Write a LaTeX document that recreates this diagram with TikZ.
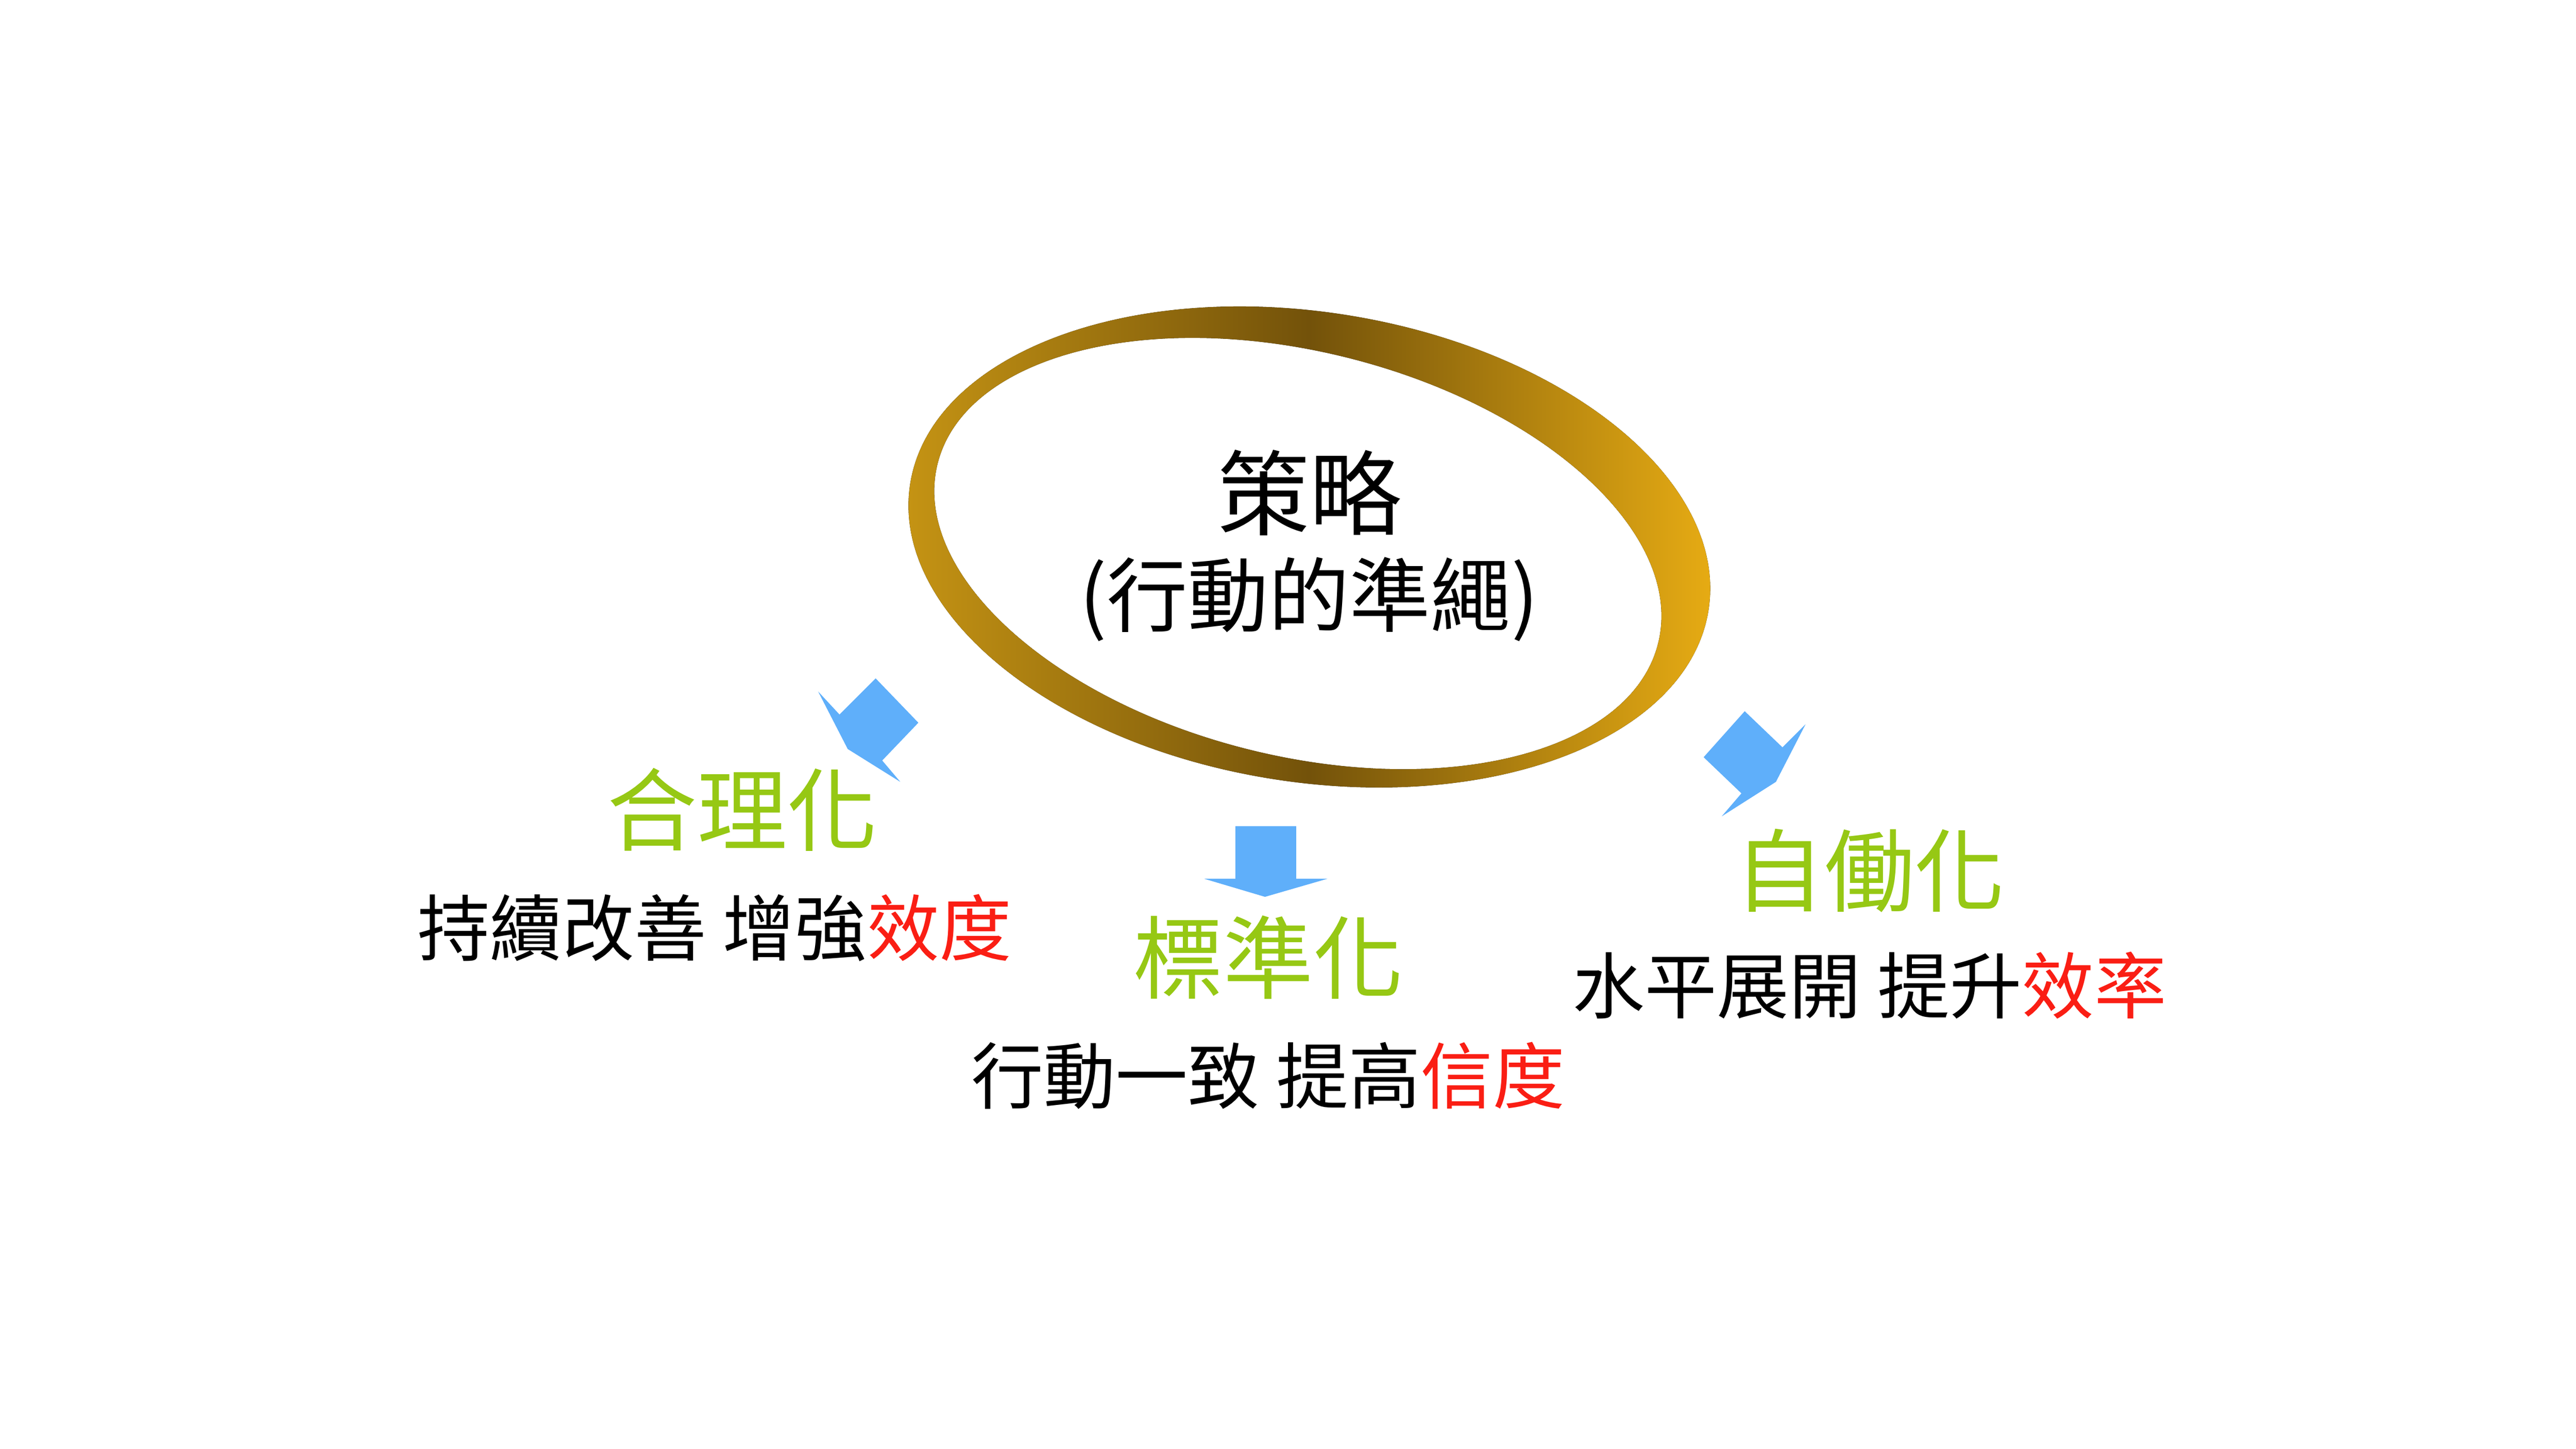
\documentclass[tikz,border=0pt]{standalone}
\usepackage{fontspec}
\setmainfont{Noto Sans CJK TC}
\begin{document}
\begin{tikzpicture}[x=0.01cm,y=-0.01cm]
\definecolor{gr}{RGB}{150,200,20}
\definecolor{rd}{RGB}{250,30,20}
\definecolor{bl}{RGB}{95,175,250}
\definecolor{gA}{RGB}{200,150,20}
\definecolor{gB}{RGB}{115,82,10}
\definecolor{gC}{RGB}{235,175,20}
\tikzset{ttl/.style={font=\fontsize{15.6}{18}\selectfont,text=gr},
 sub/.style={font=\fontsize{12.5}{15}\selectfont},
 arr/.style={fill=bl,draw=none}}
\useasboundingbox (0,0) rectangle (1568,882);
\fill[even odd rule,left color=gA,right color=gC,middle color=gB]
 (797,333) ellipse[x radius=246,y radius=143,rotate=-9]
 (790,337) ellipse[x radius=226,y radius=123,rotate=-14];
\node[font=\fontsize{16}{19}\selectfont] (t) at (797,300) {策略};
\node[font=\fontsize{14}{17}\selectfont] (t2) at (797,365) {(行動的準繩)};
\fill[arr] (533,413)--(559,440)--(537,463)--(548,476)--(516,456)--(498,421)--(511,435)--cycle;
\fill[arr] (1062,433)--(1085,455)--(1099,441)--(1081,476)--(1048,497)--(1060,483)--(1037,461)--cycle;
\fill[arr] (752,503)--(789,503)--(789,535)--(808,535)--(770,546)--(733,535)--(752,535)--cycle;
\node[ttl] (a) at (452,493) {合理化};
\node[sub] (as) at (435,565) {持續改善 增強\textcolor{rd}{效度}};
\node[ttl] (b) at (772,583) {標準化};
\node[sub] (bs) at (772,655) {行動一致 提高\textcolor{rd}{信度}};
\node[ttl] (c) at (1138,530) {自働化};
\node[sub] (cs) at (1138,600) {水平展開 提升\textcolor{rd}{效率}};
\end{tikzpicture}
\end{document}
